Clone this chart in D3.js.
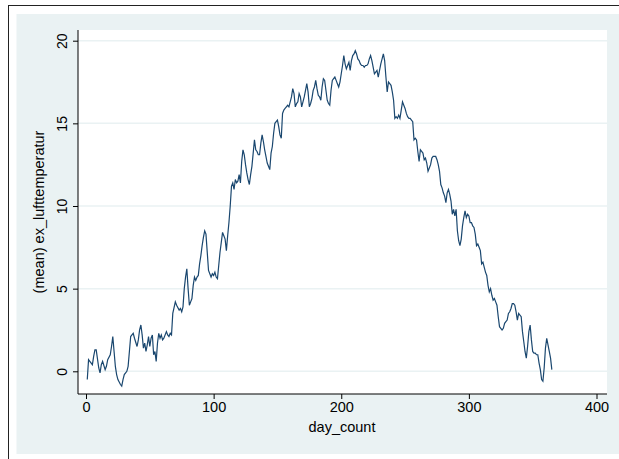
<!DOCTYPE html>
<html>
<head>
<meta charset="utf-8">
<script src="https://cdn.jsdelivr.net/npm/d3@7"></script>
<style>
  body { margin: 0; background: #fff; }
  text { font-family: "Liberation Sans", Arial, sans-serif; fill: #000; }
</style>
</head>
<body>
<svg id="chart"></svg>
<script>
// daily mean of ex_lufttemperatur
var dayCount = [1,2,3,5,6,7,8,10,11,12,13,15,16,17,19,20,21,22,23,24,25,27,28,29,30,32,33,34,35,36,37,38,40,41,42,43,44,45,46,47,48,49,50,51,52,53,54,55,56,57,58,59,60,61,63,64,65,66,67,68,70,71,73,74,75,76,77,78,79,80,81,82,83,84,85,86,87,88,89,90,91,92,93,94,95,96,97,98,99,100,
  101,102,103,104,105,106,107,108,109,110,111,112,113,114,115,116,117,118,119,120,121,122,123,124,125,126,127,128,129,130,131,132,133,134,135,136,137,138,139,140,141,142,143,144,145,146,147,148,149,150,
  151,152,153,154,155,156,157,158,159,160,161,162,163,164,165,166,167,168,169,170,171,172,173,174,175,176,177,178,179,180,181,182,183,184,185,186,187,188,189,190,191,192,193,194,195,196,197,198,199,200,
  201,202,203,204,205,206,207,208,209,210,211,212,213,214,215,216,217,218,219,220,221,222,223,224,225,226,227,228,229,230,231,232,233,234,235,236,237,238,239,240,241,242,243,244,245,246,247,248,249,250,
  251,252,253,254,255,256,257,258,259,260,261,262,263,264,265,266,267,268,269,270,271,272,273,274,275,276,277,278,279,280,281,282,283,284,285,286,287,288,289,290,291,292,293,294,295,296,297,298,299,300,
  301,302,303,304,305,306,307,308,309,310,311,312,313,314,315,316,317,318,319,320,321,322,323,324,325,326,327,328,329,330,331,332,333,334,335,336,337,338,339,340,341,342,343,344,345,346,347,348,349,350,
  351,352,353,354,355,356,357,358,359,360,361,362,363,364,365];
var meanTemp = [-0.5,0.7,0.6,0.4,0.9,1.3,1.3,0.2,-0.1,0.4,0.6,0.1,0.3,0.7,1.0,1.5,2.1,1.2,0.3,-0.2,-0.5,-0.8,-0.9,-0.5,-0.2,0.0,0.3,1.2,2.1,2.2,2.3,2.0,1.5,1.9,2.5,2.8,2.2,1.4,1.7,1.2,1.6,2.1,1.5,2.0,2.2,1.0,1.2,0.6,1.7,2.3,2.0,2.2,1.9,2.0,2.4,2.2,2.1,2.3,2.2,3.5,4.2,4.0,3.7,3.8,3.6,3.9,5.0,5.7,6.2,5.0,4.0,4.2,4.4,5.2,5.7,5.5,5.7,5.8,6.5,7.0,7.6,8.1,8.5,8.3,7.2,6.1,5.9,5.7,5.9,5.8,
  6.0,5.7,5.6,6.4,7.2,7.8,8.4,8.2,8.0,7.3,8.2,9.0,10.0,11.2,11.4,11.0,11.6,11.4,11.5,11.9,11.4,12.7,13.4,13.1,12.5,12.0,11.6,11.3,11.9,12.4,13.2,14.0,13.4,13.3,13.1,13.1,13.8,14.3,13.9,13.4,13.0,12.6,12.4,12.2,13.2,13.6,14.4,15.0,15.1,15.2,
  14.8,14.3,14.1,15.6,15.8,15.9,16.0,16.1,16.0,16.3,16.6,17.1,16.8,16.0,16.2,16.3,16.8,16.6,16.0,16.3,16.6,17.0,17.4,16.9,16.0,16.2,16.5,17.0,17.2,17.6,17.1,16.7,16.6,16.4,17.2,17.7,17.6,17.0,16.4,16.2,16.1,17.0,17.6,17.7,17.8,17.6,17.4,17.2,17.5,18.0,
  18.5,19.1,18.6,18.3,18.5,18.7,18.2,18.8,19.1,19.2,19.4,19.2,18.9,18.8,18.6,18.5,18.5,18.4,18.5,18.5,18.6,18.9,19.1,18.8,18.4,18.0,18.1,18.2,17.8,18.2,18.6,18.9,19.2,18.8,17.8,16.9,17.5,17.4,17.3,16.9,16.4,15.3,15.4,15.3,15.5,15.3,15.8,16.3,16.1,15.9,
  15.6,15.4,15.3,15.3,15.2,15.1,14.0,14.1,14.0,13.3,12.7,13.4,13.3,13.2,12.8,12.9,12.6,12.1,12.3,12.5,12.9,13.0,13.0,13.0,12.8,12.5,12.1,11.3,11.1,10.8,10.6,10.2,10.8,11.0,10.7,10.3,9.5,9.8,9.4,9.8,8.5,7.9,7.6,8.0,8.8,9.3,9.7,9.3,9.5,9.4,
  9.0,9.0,8.8,8.7,8.3,7.6,7.7,7.5,7.3,6.5,6.6,6.3,6.0,5.8,5.2,4.8,5.0,4.6,4.3,4.4,4.2,4.0,3.3,2.7,2.6,2.5,2.6,2.9,3.0,3.1,3.5,3.6,3.8,4.1,4.1,4.0,3.6,3.1,3.5,3.4,3.3,2.4,1.8,1.2,0.8,1.5,2.4,2.8,1.9,1.2,
  1.1,1.1,1.0,1.0,0.5,0.1,-0.5,-0.6,0.2,1.4,2.0,1.6,1.2,0.8,0.1];
var xTicks = [0, 100, 200, 300, 400];
var yTicks = [0, 5, 10, 15, 20];

var W = 619, H = 459;
var svg = d3.select('#chart').attr('width', W).attr('height', H);
var bg = '#eaf2f3';

// outer frame + graph region
svg.append('rect').attr('x', 8.5).attr('y', 5.5).attr('width', W).attr('height', H).attr('fill', '#fff').attr('stroke', '#222').attr('stroke-width', 1);
svg.append('rect').attr('x', 16.5).attr('y', 14).attr('width', W - 16.5).attr('height', 440).attr('fill', bg);

var plotL = 78, plotR = 607, plotT = 30, plotB = 394;
svg.append('rect').attr('x', plotL).attr('y', plotT).attr('width', plotR - plotL).attr('height', plotB - plotT).attr('fill', '#fff');

var x = d3.scaleLinear().domain([0, 400]).range([86, 596.5]);
var y = d3.scaleLinear().domain([0, 20]).range([371.3, 40.7]);

// gridlines
svg.append('g').selectAll('line').data(yTicks).enter().append('line')
    .attr('x1', plotL).attr('x2', plotR)
    .attr('y1', function(d){return y(d);}).attr('y2', function(d){return y(d);})
    .attr('stroke', bg).attr('stroke-width', 1.5);

// line
var pts = dayCount.map(function(d, i){return [d, meanTemp[i]];});
svg.append('path').datum(pts)
    .attr('d', d3.line().x(function(d){return x(d[0]);}).y(function(d){return y(d[1]);}))
    .attr('fill', 'none').attr('stroke', '#1a476f').attr('stroke-width', 1.2);

// axes
var yAxis = d3.axisLeft(y).tickValues(yTicks).tickSize(5).tickFormat(d3.format('d'));
var gy = svg.append('g').attr('transform', 'translate(' + plotL + ',0)').call(yAxis);
gy.select('.domain').remove();
gy.append('line').attr('x1', 0).attr('x2', 0).attr('y1', plotT).attr('y2', plotB).attr('stroke', '#000');
gy.selectAll('.tick text')
    .attr('transform', function(d){return 'translate(' + (-16) + ',' + 0 + ') rotate(-90)';})
    .attr('x', 0).attr('y', 0).attr('dy', '0.35em')
    .style('text-anchor', 'middle').style('font-size', '14px');

var xAxis = d3.axisBottom(x).tickValues(xTicks).tickSize(5).tickFormat(d3.format('d'));
var gx = svg.append('g').attr('transform', 'translate(0,' + plotB + ')').call(xAxis);
gx.select('.domain').remove();
gx.append('line').attr('x1', plotL).attr('x2', plotR).attr('y1', 0).attr('y2', 0).attr('stroke', '#000');
gx.selectAll('.tick text').attr('y', 8).attr('dy', '0.71em').style('font-size', '14.5px');

// titles
svg.append('text').attr('x', 342).attr('y', 432).attr('text-anchor', 'middle')
    .style('font-size', '14.5px').text('day_count');
svg.append('text').attr('transform', 'translate(44,' + ((plotT + plotB) / 2) + ') rotate(-90)')
    .attr('text-anchor', 'middle').style('font-size', '14.5px')
    .text('(mean) ex_lufttemperatur');
</script>
</body>
</html>
